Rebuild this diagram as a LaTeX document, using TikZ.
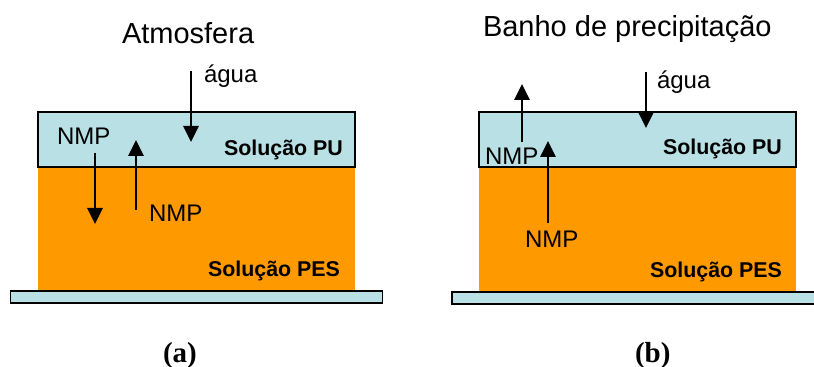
\documentclass[tikz,border=0pt]{standalone}
\usepackage{fontspec}
\setmainfont{Liberation Sans}
\newfontfamily\capfont{Liberation Serif}
\usetikzlibrary{arrows.meta,positioning}
\definecolor{pucolor}{RGB}{185,224,228}
\definecolor{pescolor}{RGB}{255,153,0}

\begin{document}
\begin{tikzpicture}[x=0.5pt,y=-0.5pt,outer sep=0pt,
    layer/.style={rectangle,inner sep=0pt,minimum width=158.5pt},
    pu/.style={layer,draw,line width=0.9pt,fill=pucolor,minimum height=27.5pt},
    pes/.style={layer,fill=pescolor,minimum height=62pt},
    base/.style={rectangle,inner sep=0pt,draw,line width=0.9pt,fill=pucolor,minimum height=6pt},
    lbl/.style={inner sep=0pt,anchor=base west,font=\fontsize{12}{12}\selectfont},
    title/.style={inner sep=0pt,anchor=base west,font=\fontsize{14.5}{15}\selectfont},
    layername/.style={inner sep=0pt,anchor=base west,font=\fontsize{10.7}{11}\selectfont\bfseries},
    caption/.style={inner sep=0pt,anchor=base west,font=\fontsize{14.5}{15}\selectfont\capfont\bfseries},
    flow/.style={-{Triangle[length=8pt,width=7.5pt]},line width=1.35pt}]
  \useasboundingbox (0,0) rectangle (814,367);

  % (a) atmosfera
  \node[pes,anchor=north west] (pesA) at (38,167) {};
  \node[pu] (puA) [above=0pt of pesA] {};
  \node[base,minimum width=186pt] (subA) [below=0pt of pesA] {};

  \node[title] (atmA) at (122,44) {Atmosfera};
  \node[lbl] (aguaA) at (204,83) {água};
  \node[lbl] (nmpA1) at (57,145) {NMP};
  \node[lbl] (nmpA2) at (149,222) {NMP};
  \node[layername] (puNameA) at (224,156) {Solução PU};
  \node[layername] (pesNameA) at (208,277) {Solução PES};
  \node[caption] (capA) at (163,363) {(a)};

  \coordinate (wA1) at (191,71);  \coordinate (wA2) at (191,142);
  \coordinate (dA1) at (95,153);  \coordinate (dA2) at (95,224);
  \coordinate (uA1) at (136,210); \coordinate (uA2) at (136,140);

  \path[flow]
    (wA1) edge (wA2)
    (dA1) edge (dA2)
    (uA1) edge (uA2);

  % (b) banho de precipitacao
  \node[pes,anchor=north west] (pesB) at (479,167) {};
  \node[pu] (puB) [above=0pt of pesB] {};
  \node[base,minimum width=190pt,anchor=north west] (subB) at (452,292) {};

  \node[title] (banhoB) at (483,37) {Banho de precipitação};
  \node[lbl] (aguaB) at (657,89) {água};
  \node[lbl] (nmpB1) at (485,165) {NMP};
  \node[lbl] (nmpB2) at (525,248) {NMP};
  \node[layername] (puNameB) at (663,155) {Solução PU};
  \node[layername] (pesNameB) at (650,278) {Solução PES};
  \node[caption] (capB) at (635,363) {(b)};

  \coordinate (wB1) at (646,72);  \coordinate (wB2) at (646,128);
  \coordinate (uB1) at (522,142); \coordinate (uB2) at (522,84);
  \coordinate (vB1) at (548,223); \coordinate (vB2) at (548,141);

  \path[flow]
    (wB1) edge (wB2)
    (uB1) edge (uB2)
    (vB1) edge (vB2);
\end{tikzpicture}
\end{document}
